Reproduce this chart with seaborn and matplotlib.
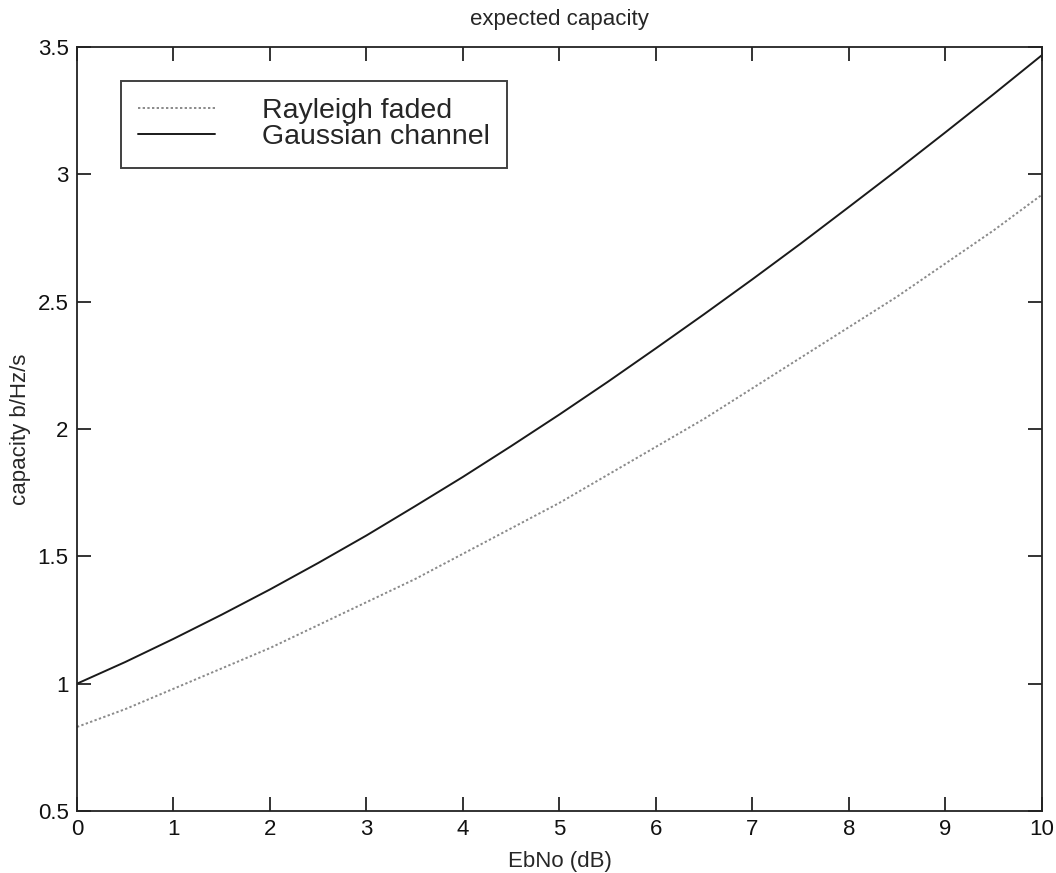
import matplotlib
matplotlib.use("Agg")
import matplotlib.pyplot as plt
from matplotlib.lines import Line2D
import seaborn as sns
import pandas as pd

ebno_db = [0, 0.5, 1, 1.5, 2, 2.5, 3, 3.5, 4, 4.5, 5, 5.5, 6, 6.5, 7, 7.5, 8, 8.5, 9, 9.5, 10]
rayleigh = [0.83, 0.90, 0.98, 1.06, 1.14, 1.23, 1.32, 1.41, 1.51, 1.61, 1.71, 1.82, 1.93, 2.04,
            2.16, 2.28, 2.40, 2.52, 2.65, 2.78, 2.92]
gaussian = [1.00, 1.085, 1.176, 1.271, 1.370, 1.474, 1.582, 1.696, 1.812, 1.933, 2.057, 2.185,
            2.317, 2.451, 2.588, 2.728, 2.872, 3.017, 3.165, 3.315, 3.468]
series_names = ["Rayleigh faded", "Gaussian channel"]
x_ticks = list(range(0, 11))
y_ticks = [0.5, 1, 1.5, 2, 2.5, 3, 3.5]
y_tick_labels = ["0.5", "1", "1.5", "2", "2.5", "3", "3.5"]

sns.set_style("white")
plt.rcParams['font.family'] = ['Liberation Sans', 'DejaVu Sans']

df = pd.DataFrame({
    "EbNo": ebno_db * 2,
    "capacity": rayleigh + gaussian,
    "series": [series_names[0]] * len(ebno_db) + [series_names[1]] * len(ebno_db),
})

fig = plt.figure(figsize=(10.56, 8.73), dpi=100)
ax = fig.add_axes([0.0729, 0.0710, 0.9138, 0.8752])

ray_color = "#8a8a8a"
gau_color = "#1a1a1a"
sns.lineplot(data=df, x="EbNo", y="capacity", hue="series", style="series",
             palette={series_names[0]: ray_color, series_names[1]: gau_color},
             dashes={series_names[0]: (1.2, 1.2), series_names[1]: ""},
             linewidth=1.4, ax=ax, legend=False)

ax.set_xlim(0, 10)
ax.set_ylim(0.5, 3.5)
ax.set_xticks(x_ticks)
ax.set_yticks(y_ticks)
ax.set_yticklabels(y_tick_labels)
ax.tick_params(direction="in", length=10, width=1.2, top=True, right=True,
               bottom=True, left=True, labelsize=16, colors="#111111", pad=6)
for s in ax.spines.values():
    s.set_linewidth(1.3)
    s.set_color("#222222")

ax.set_xlabel("EbNo (dB)", fontsize=16, labelpad=8)
ax.set_ylabel("capacity b/Hz/s", fontsize=16, labelpad=5)
ax.set_title("expected capacity", fontsize=16, pad=16)

handles = [Line2D([], [], color=ray_color, linestyle=(0, (1.2, 1.2)), linewidth=1.4),
           Line2D([], [], color=gau_color, linewidth=1.4)]
leg = ax.legend(handles, series_names, loc="upper left", bbox_to_anchor=(0.0456, 0.955),
                fontsize=20.5, frameon=True, fancybox=False, handlelength=2.7,
                handletextpad=1.65, borderpad=0.6, labelspacing=0.0, borderaxespad=0)
leg.get_frame().set_edgecolor("#111111")
leg.get_frame().set_linewidth(1.4)

fig.savefig("out.png", dpi=100, facecolor="white")
